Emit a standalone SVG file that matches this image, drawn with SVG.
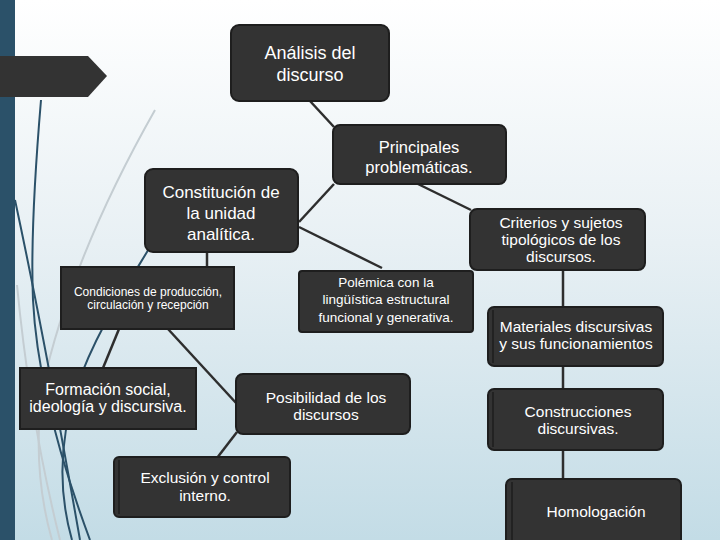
<svg xmlns="http://www.w3.org/2000/svg" width="720" height="540" viewBox="0 0 720 540">
<defs>
<linearGradient id="bg" x1="0" y1="0" x2="0" y2="1">
<stop offset="0" stop-color="#ffffff"/>
<stop offset="0.45" stop-color="#e8f0f4"/>
<stop offset="1" stop-color="#c3dce6"/>
</linearGradient>
<style>
.box{fill:#333333;stroke:#1e1e1e;stroke-width:2}
.bev{stroke:#1e1e1e;stroke-width:1.5;fill:none}
.t{font-family:"Liberation Sans",Arial,sans-serif;fill:#ffffff;text-anchor:middle}
.c{stroke:#2e2e2e;stroke-width:2.5;fill:none}
.db{stroke:#2b5169;stroke-width:2;fill:none}
.dg{stroke:#c4cdd2;stroke-width:2;fill:none}
</style>
</defs>
<rect x="0" y="0" width="720" height="540" fill="url(#bg)"/>
<g id="decoration">
<path class="dg" d="M155,110 Q70,260 42,390 Q32,470 52,540"/>
<path class="dg" d="M17,285 Q30,420 60,540"/>
<path class="db" d="M41,100 Q30,230 33,300 Q38,400 90,540"/>
<path class="db" d="M15,200 Q45,340 80,540"/>
<path class="db" d="M150,247 C100,330 38,420 72,540"/>
<rect x="0" y="0" width="15" height="540" fill="#2b5169"/>
<polygon points="0,56 88,56 107,76 88,97 0,97" fill="#333333"/>
</g>
<g id="connectors">
<line class="c" x1="310" y1="101" x2="334" y2="127"/>
<line class="c" x1="334" y1="184" x2="299" y2="222"/>
<line class="c" x1="418" y1="184" x2="471" y2="210"/>
<line class="c" x1="299" y1="227" x2="382" y2="268"/>
<line class="c" x1="207" y1="252" x2="207" y2="268"/>
<line class="c" x1="119" y1="329" x2="103" y2="368"/>
<line class="c" x1="168" y1="329" x2="237" y2="404"/>
<line class="c" x1="237" y1="432" x2="217" y2="458"/>
<line class="c" x1="563" y1="270" x2="563" y2="308"/>
<line class="c" x1="563" y1="366" x2="563" y2="390"/>
<line class="c" x1="563" y1="450" x2="563" y2="480"/>
</g>
<g id="n-analisis">
<rect class="box" x="231" y="25" width="158" height="76" rx="8"/>
<text class="t" font-size="18"><tspan x="310" y="59">Análisis del</tspan><tspan x="310" y="81">discurso</tspan></text>
</g>
<g id="n-principales">
<rect class="box" x="333" y="125" width="173" height="59" rx="7"/>
<text class="t" font-size="16.5"><tspan x="419" y="153">Principales</tspan><tspan x="419" y="173">problemáticas.</tspan></text>
</g>
<g id="n-constitucion">
<rect class="box" x="145" y="169" width="153" height="83" rx="8"/>
<text class="t" font-size="17"><tspan x="221" y="198">Constitución de</tspan><tspan x="221" y="219">la unidad</tspan><tspan x="221" y="240">analítica.</tspan></text>
</g>
<g id="n-criterios">
<rect class="box" x="470" y="209" width="175" height="61" rx="7"/>
<text class="t" font-size="15.5"><tspan x="561" y="228">Criterios y sujetos</tspan><tspan x="561" y="245">tipológicos de los</tspan><tspan x="561" y="262">discursos.</tspan></text>
</g>
<g id="n-polemica">
<rect class="box" x="299" y="271" width="174" height="61" rx="3"/>
<text class="t" font-size="13.5"><tspan x="386" y="287">Polémica con la</tspan><tspan x="386" y="304">lingüística estructural</tspan><tspan x="386" y="322">funcional y generativa.</tspan></text>
</g>
<g id="n-condiciones">
<rect class="box" x="61" y="267" width="173" height="62"/>
<text class="t" font-size="12"><tspan x="148" y="296">Condiciones de producción,</tspan><tspan x="148" y="309">circulación y recepción</tspan></text>
</g>
<g id="n-formacion">
<rect class="box" x="20" y="368" width="176" height="61"/>
<text class="t" font-size="16"><tspan x="108" y="395">Formación social,</tspan><tspan x="108" y="412">ideología y discursiva.</tspan></text>
</g>
<g id="n-materiales">
<rect class="box" x="488" y="307" width="175" height="59" rx="6"/>
<line class="bev" x1="493" y1="310" x2="493" y2="363"/>
<text class="t" font-size="15.5"><tspan x="576" y="332">Materiales discursivas</tspan><tspan x="576" y="349">y sus funcionamientos</tspan></text>
</g>
<g id="n-posibilidad">
<rect class="box" x="236" y="374" width="174" height="60" rx="7"/>
<text class="t" font-size="15.5"><tspan x="326" y="403">Posibilidad de los</tspan><tspan x="326" y="420">discursos</tspan></text>
</g>
<g id="n-exclusion">
<rect class="box" x="114" y="457" width="176" height="60" rx="5"/>
<line class="bev" x1="119" y1="460" x2="119" y2="514"/>
<text class="t" font-size="15.5"><tspan x="205" y="483">Exclusión y control</tspan><tspan x="205" y="501">interno.</tspan></text>
</g>
<g id="n-construcciones">
<rect class="box" x="488" y="389" width="175" height="61" rx="6"/>
<line class="bev" x1="493" y1="392" x2="493" y2="447"/>
<text class="t" font-size="15.5"><tspan x="578" y="417">Construcciones</tspan><tspan x="578" y="434">discursivas.</tspan></text>
</g>
<g id="n-homologacion">
<rect class="box" x="506" y="479" width="175" height="70" rx="6"/>
<line class="bev" x1="512" y1="482" x2="512" y2="540"/>
<text class="t" font-size="15.5" x="596" y="517">Homologación</text>
</g>
</svg>
